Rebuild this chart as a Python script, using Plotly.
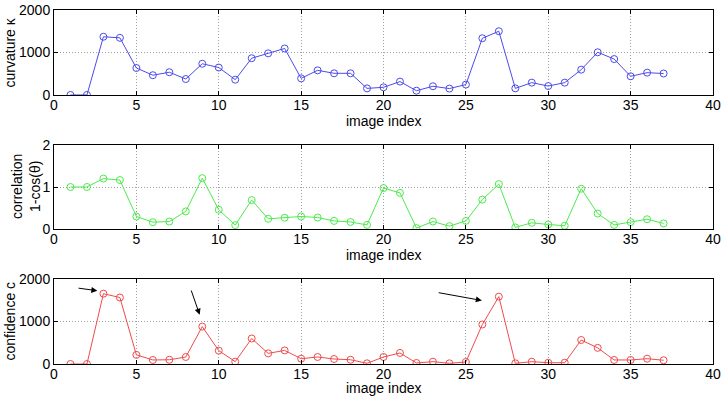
import plotly.graph_objects as go

image_index = list(range(1, 38))
curvature = [0, 0, 1370, 1345, 635, 465, 535, 375, 735, 645, 360, 865, 980, 1095,
             390, 580, 510, 510, 155, 180, 315, 100, 205, 150, 245, 1335, 1500,
             155, 290, 210, 290, 595, 1005, 845, 440, 525, 505]
correlation = [1.0, 1.0, 1.2, 1.165, 0.30, 0.165, 0.18, 0.42, 1.21, 0.46, 0.095,
               0.69, 0.245, 0.27, 0.30, 0.275, 0.195, 0.17, 0.10, 0.975, 0.86,
               0.025, 0.18, 0.07, 0.195, 0.70, 1.07, 0.04, 0.15, 0.11, 0.08, 0.96,
               0.37, 0.10, 0.165, 0.235, 0.135]
confidence = [0, 0, 1655, 1565, 215, 95, 100, 165, 880, 315, 55, 600, 250, 320,
              125, 165, 118, 100, 16, 165, 260, 24, 55, 16, 47, 930, 1585, 16,
              55, 30, 30, 565, 380, 95, 95, 125, 88]

x_ticks = [0, 5, 10, 15, 20, 25, 30, 35, 40]
y_ticks_big = [0, 1000, 2000]
y_ticks_corr = [0, 1, 2]

# arrows on the confidence panel: (tail x, tail y, head x, head y)
arrows = [(1.40, 1790, 2.63, 1725),
          (8.30, 1765, 8.84, 1160),
          (23.26, 1685, 25.97, 1495)]

FONT = "Liberation Sans, Arial, sans-serif"
ydoms = [[0.760, 1.0], [0.381, 0.619], [0.0, 0.240]]
series = [curvature, correlation, confidence]
colors = ["rgb(75,75,235)", "rgb(75,235,75)", "rgb(240,75,75)"]
ylabels = ["curvature κ", "correlation<br>1-cos(θ)", "confidence c"]
ylab_shift = [-44, -28, -44]
xlab_shift = [-26, -26, -24]
yranges = [[0, 2000], [0, 2], [0, 2000]]
yticks = [y_ticks_big, y_ticks_corr, y_ticks_big]

fig = go.Figure()
annotations = []
for i in range(3):
    n = "" if i == 0 else str(i + 1)
    fig.add_trace(go.Scatter(
        x=image_index, y=series[i], mode="lines+markers",
        line=dict(color=colors[i], width=1),
        marker=dict(symbol="circle-open", size=7, color=colors[i], line=dict(width=1)),
        xaxis="x" + n, yaxis="y" + n, showlegend=False))
    axis_common = dict(showline=True, linecolor="black", linewidth=1, mirror="ticks",
                       ticks="inside", ticklen=4, tickcolor="black", automargin=False,
                       showgrid=True, gridcolor="#a0a0a0", griddash="1px,2px", gridwidth=1,
                       zeroline=False, tickfont=dict(family=FONT, size=14, color="black"))
    fig.update_layout(**{
        "xaxis" + n: dict(axis_common, domain=[0, 1], range=[0, 40], tickvals=x_ticks,
                          anchor="y" + n, ticklabelstandoff=-3),
        "yaxis" + n: dict(axis_common, domain=ydoms[i], range=yranges[i],
                          tickvals=yticks[i], anchor="x" + n),
    })
    annotations.append(dict(text="image index", xref="paper", yref="paper", x=0.5,
                            y=ydoms[i][0], xanchor="center", yanchor="middle",
                            yshift=xlab_shift[i], showarrow=False,
                            font=dict(family=FONT, size=14, color="black")))
    annotations.append(dict(text=ylabels[i], xref="paper", yref="paper", x=0,
                            y=(ydoms[i][0] + ydoms[i][1]) / 2, xanchor="center",
                            yanchor="middle", xshift=ylab_shift[i], textangle=-90,
                            showarrow=False,
                            font=dict(family=FONT, size=14, color="black")))

for tx, ty, hx, hy in arrows:
    annotations.append(dict(text="", x=hx, y=hy, ax=tx, ay=ty, xref="x3", yref="y3",
                            axref="x3", ayref="y3", showarrow=True, arrowhead=2,
                            arrowsize=1.2, arrowwidth=1, arrowcolor="black"))

fig.update_layout(width=726, height=396, plot_bgcolor="white", paper_bgcolor="white",
                  margin=dict(l=54, r=13, t=10, b=32, autoexpand=False),
                  annotations=annotations,
                  font=dict(family=FONT, size=14, color="black"))
fig.write_html("out.html")
